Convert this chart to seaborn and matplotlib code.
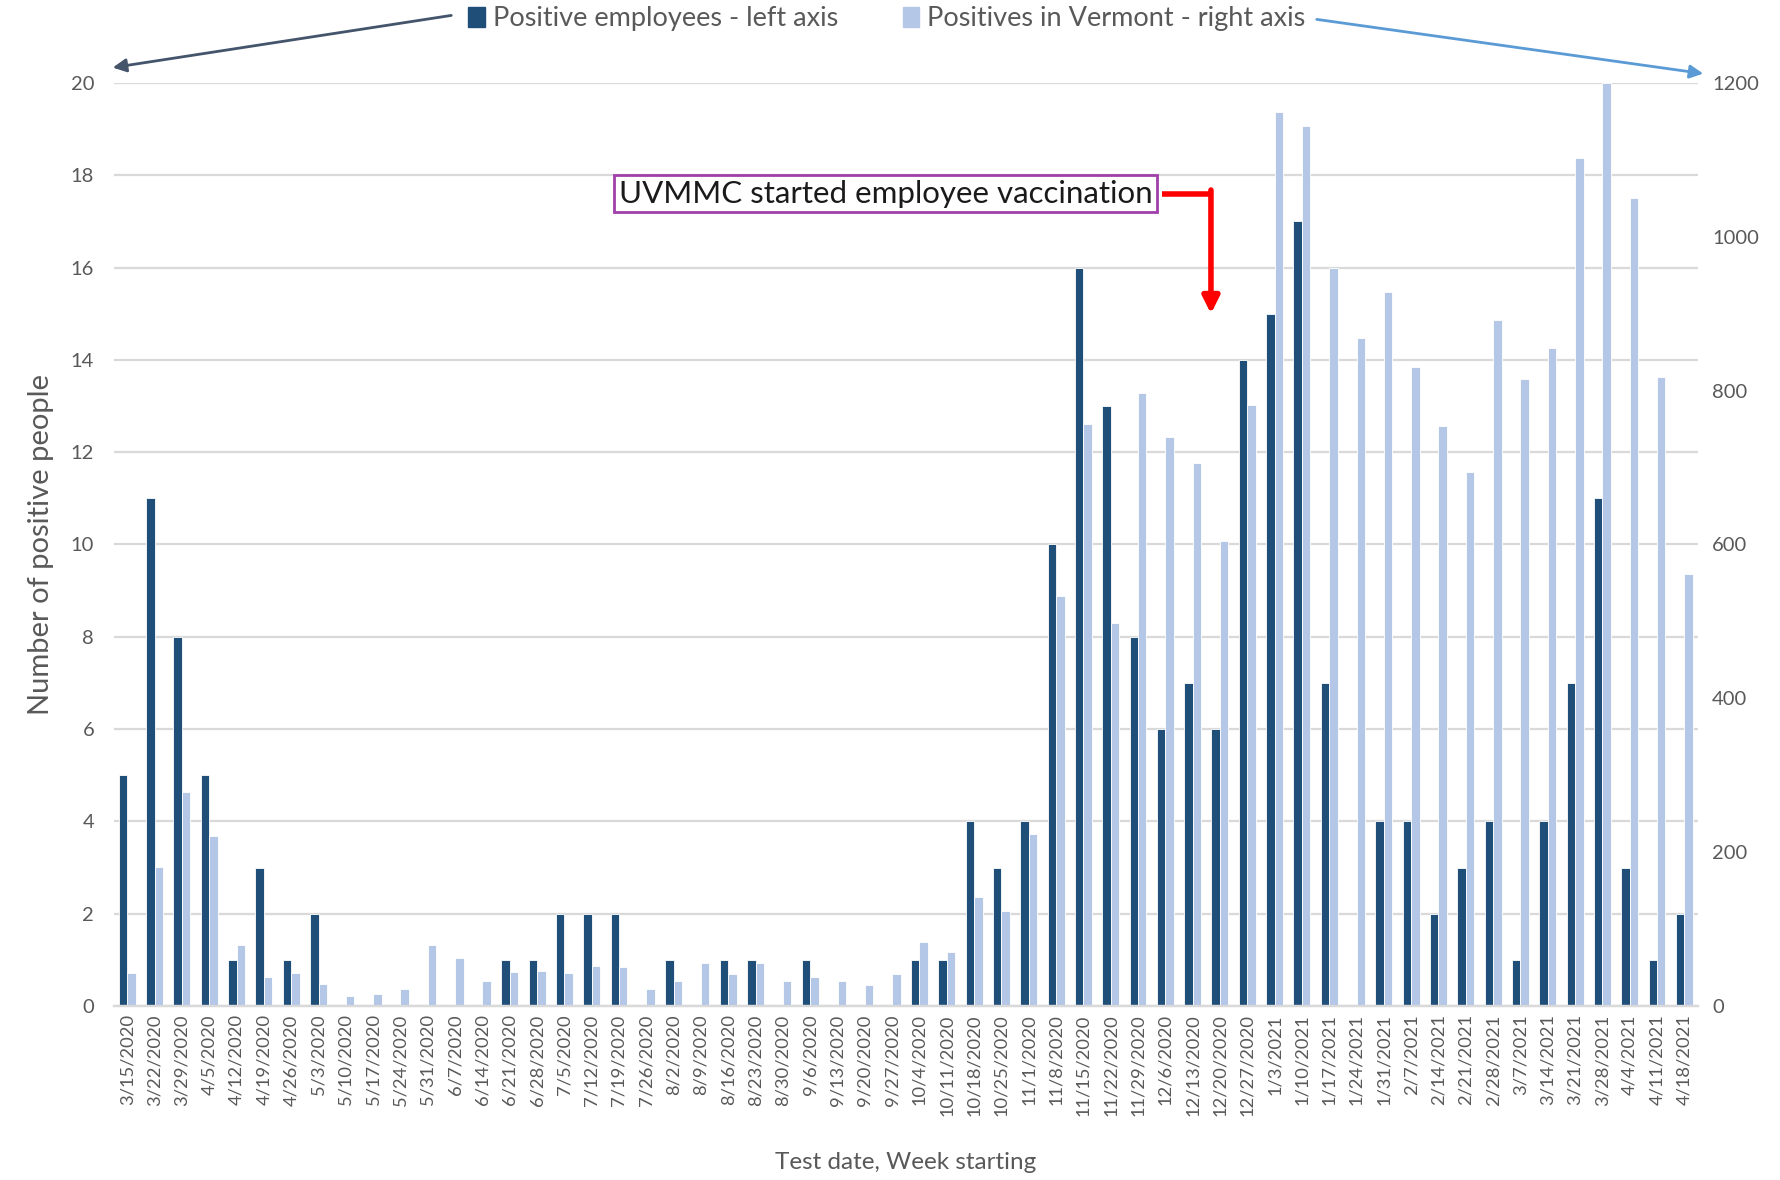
import pandas as pd
import seaborn as sns
import matplotlib.pyplot as plt
from matplotlib.patches import Patch

# weekly data, week starting
dates = ["3/15/2020", "3/22/2020", "3/29/2020", "4/5/2020", "4/12/2020", "4/19/2020",
         "4/26/2020", "5/3/2020", "5/10/2020", "5/17/2020", "5/24/2020", "5/31/2020",
         "6/7/2020", "6/14/2020", "6/21/2020", "6/28/2020", "7/5/2020", "7/12/2020",
         "7/19/2020", "7/26/2020", "8/2/2020", "8/9/2020", "8/16/2020", "8/23/2020",
         "8/30/2020", "9/6/2020", "9/13/2020", "9/20/2020", "9/27/2020", "10/4/2020",
         "10/11/2020", "10/18/2020", "10/25/2020", "11/1/2020", "11/8/2020", "11/15/2020",
         "11/22/2020", "11/29/2020", "12/6/2020", "12/13/2020", "12/20/2020", "12/27/2020",
         "1/3/2021", "1/10/2021", "1/17/2021", "1/24/2021", "1/31/2021", "2/7/2021",
         "2/14/2021", "2/21/2021", "2/28/2021", "3/7/2021", "3/14/2021", "3/21/2021",
         "3/28/2021", "4/4/2021", "4/11/2021", "4/18/2021"]

employees = [5, 11, 8, 5, 1, 3, 1, 2, 0, 0, 0, 0, 0, 0, 1, 1, 2, 2, 2, 0,
             1, 0, 1, 1, 0, 1, 0, 0, 0, 1, 1, 4, 3, 4, 10, 16, 13, 8, 6, 7,
             6, 14, 15, 17, 7, 0, 4, 4, 2, 3, 4, 1, 4, 7, 11, 3, 1, 2]

vermont = [43, 181, 278, 221, 79, 37, 43, 29, 13, 16, 22, 79, 62, 32, 44, 45, 43, 52,
           51, 22, 32, 56, 41, 56, 32, 37, 32, 27, 41, 83, 70, 142, 124, 223, 533, 756,
           498, 797, 740, 706, 604, 781, 1162, 1144, 960, 868, 928, 831, 754, 694, 892,
           815, 856, 1102, 1200, 1051, 818, 561]

emp_name = "Positive employees - left axis"
vt_name = "Positives in Vermont - right axis"
dark = "#1F4E79"
light = "#B4C7E7"
grey = "#595959"

df_emp = pd.DataFrame({"date": dates, "value": employees, "series": emp_name})
df_vt = pd.DataFrame({"date": dates, "value": vermont, "series": vt_name})

sns.set_style("white")
plt.rcParams["font.family"] = ["Lato", "DejaVu Sans"]

fig = plt.figure(figsize=(17.81, 11.80), dpi=100)
ax1 = fig.add_axes([0.0638, 0.1475, 0.8896, 0.7822])
ax2 = ax1.twinx()

common = dict(x="date", y="value", hue="series", hue_order=[emp_name, vt_name],
              palette=[dark, light], order=dates, width=0.62, dodge=True,
              saturation=1, errorbar=None, legend=False, linewidth=0.6,
              edgecolor="white")
sns.barplot(data=df_emp, ax=ax1, **common)
sns.barplot(data=df_vt, ax=ax2, **common)

ax1.set_xlim(-0.5, len(dates) - 0.5)
ax1.set_ylim(0, 20)
ax2.set_ylim(0, 1200)
ax1.set_yticks(range(0, 21, 2))
ax2.set_yticks(range(0, 1201, 200))
ax1.yaxis.grid(True, color="#D9D9D9", linewidth=1.6)
ax1.set_axisbelow(True)

for ax in (ax1, ax2):
    for s in ("top", "left", "right"):
        ax.spines[s].set_visible(False)
    ax.spines["bottom"].set_color("#D9D9D9")
    ax.spines["bottom"].set_linewidth(1.6)
    ax.tick_params(axis="y", length=0, labelsize=14.5, labelcolor=grey)

ax1.tick_params(axis="y", pad=14)
ax2.tick_params(axis="y", pad=10)
ax1.set_xticks(range(len(dates)))
ax1.set_xticklabels(dates, rotation=90)
ax1.set_xticks([i + 0.5 for i in range(-1, len(dates))], minor=True)
ax1.tick_params(axis="x", which="major", length=0, labelsize=13.2,
                labelcolor=grey, pad=6)
ax1.tick_params(axis="x", which="minor", length=6, color="#D9D9D9", width=1.4)

ax1.set_xlabel("Test date, Week starting", fontsize=17.5, color=grey, labelpad=26)
ax1.set_ylabel("Number of positive people", fontsize=21, color=grey, labelpad=12)
ax2.set_ylabel("")

# legend along the top
handles = [Patch(color=dark, label=emp_name), Patch(color=light, label=vt_name)]
fig.legend(handles=handles, loc="center", bbox_to_anchor=(0.498, 0.984), ncol=2,
           frameon=False, fontsize=19.5, handlelength=0.6, handleheight=0.8,
           handletextpad=0.3, columnspacing=2.4, labelcolor=grey)

# arrows pointing at the axes
ax1.annotate("", xy=(110, 1112), xytext=(454, 1165), xycoords="figure pixels",
             textcoords="figure pixels",
             arrowprops=dict(arrowstyle="-|>,head_length=0.8,head_width=0.4",
                             color="#44546A", lw=2))
ax1.annotate("", xy=(1706, 1106), xytext=(1314, 1161), xycoords="figure pixels",
             textcoords="figure pixels",
             arrowprops=dict(arrowstyle="-|>,head_length=0.8,head_width=0.4",
                             color="#5B9BD5", lw=2))

# vaccination note
ax1.text(27.77, 17.6, "UVMMC started employee vaccination", fontsize=22.5,
         ha="center", va="center", color="#1a1a1a", zorder=5,
         bbox=dict(boxstyle="square,pad=0.15", facecolor="white",
                   edgecolor="#A040A8", linewidth=2))
ax1.plot([37.86, 39.67], [17.6, 17.6], color="red", lw=4, zorder=5,
         solid_capstyle="butt")
ax1.annotate("", xy=(39.67, 15.0), xytext=(39.67, 17.68),
             arrowprops=dict(arrowstyle="-|>,head_length=1.0,head_width=0.5",
                             color="red", lw=4, shrinkA=0, shrinkB=0),
             zorder=5)

fig.savefig("out.png", dpi=100)
